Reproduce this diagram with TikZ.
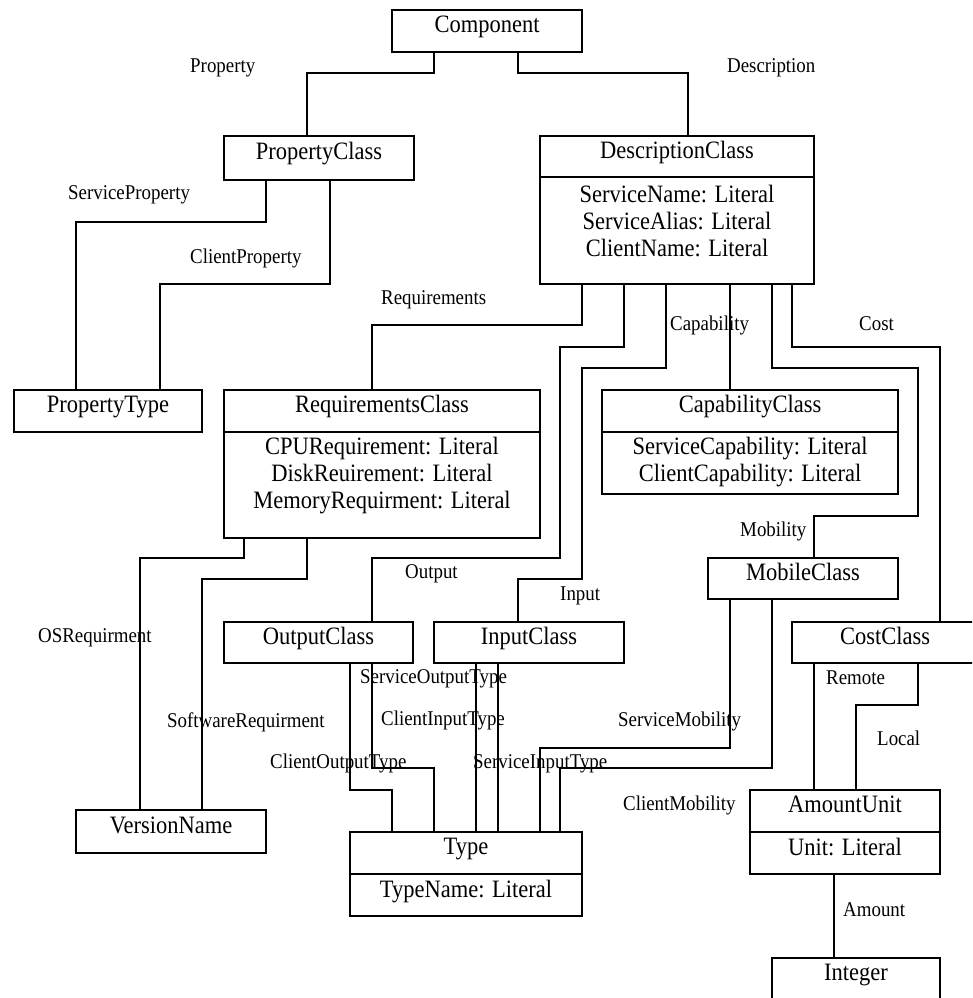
\documentclass[tikz,border=0pt]{standalone}
\usepackage{fontspec}
\setmainfont{Liberation Serif}[FakeStretch=0.9]
\newcommand\boxfont{\fontsize{25}{27}\selectfont}
\newcommand\lblfont{\fontsize{21}{23}\selectfont}

\begin{document}
\begin{tikzpicture}[x=1pt,y=-1pt,
  cls/.style={draw, line width=2.4pt, inner sep=0pt, font=\boxfont,
              text height=12pt, text depth=9pt},
  body/.style={draw, line width=2.4pt, inner sep=0pt},
  attr/.style={font=\boxfont, inner sep=0pt, anchor=base},
  rel/.style={line width=2.2pt},
  lbl/.style={font=\lblfont, inner sep=0pt, anchor=base west},
]
\useasboundingbox (0,0) rectangle (972,998);
\clip (0,0) rectangle (972,998);

% ---- classes ----
\node[cls, minimum width=190pt, minimum height=42pt] (comp)  at (487,31)    {Component};
\node[cls, minimum width=190pt, minimum height=44pt] (propc) at (319,158)   {PropertyClass};

\node[cls, minimum width=274pt, minimum height=41pt] (desch) at (677,156.5) {DescriptionClass};
\node[body, minimum width=274pt, minimum height=107pt] (descb) at (677,230.5) {};
\node[attr] (desca1) at (677,202) {ServiceName: Literal};
\node[attr] (desca2) at (677,229) {ServiceAlias: Literal};
\node[attr] (desca3) at (677,256) {ClientName: Literal};

\node[cls, minimum width=188pt, minimum height=42pt] (ptype) at (108,411)   {PropertyType};

\node[cls, minimum width=316pt, minimum height=42pt] (reqh)  at (382,411)   {RequirementsClass};
\node[body, minimum width=316pt, minimum height=106pt] (reqb) at (382,485) {};
\node[attr] (reqa1) at (382,454) {CPURequirement: Literal};
\node[attr] (reqa2) at (382,481) {DiskReuirement: Literal};
\node[attr] (reqa3) at (382,508) {MemoryRequirment: Literal};

\node[cls, minimum width=296pt, minimum height=42pt] (caph)  at (750,411)   {CapabilityClass};
\node[body, minimum width=296pt, minimum height=62pt] (capb) at (750,463) {};
\node[attr] (capa1) at (750,454) {ServiceCapability: Literal};
\node[attr] (capa2) at (750,481) {ClientCapability: Literal};

\node[cls, minimum width=190pt, minimum height=41pt] (mobc)  at (803,578.5) {MobileClass};
\node[cls, minimum width=189pt, minimum height=41pt] (outc)  at (318.5,642.5) {OutputClass};
\node[cls, minimum width=190pt, minimum height=41pt] (inc)   at (529,642.5) {InputClass};
\node[cls, minimum width=186pt, minimum height=41pt] (costc) at (885,642.5) {CostClass};
\node[cls, minimum width=190pt, minimum height=43pt] (vname) at (171,831.5) {VersionName};

\node[cls, minimum width=232pt, minimum height=42pt] (typeh) at (466,853)   {Type};
\node[body, minimum width=232pt, minimum height=42pt] (typeb) at (466,895) {};
\node[attr] (typea1) at (466,897) {TypeName: Literal};

\node[cls, minimum width=190pt, minimum height=42pt] (amth)  at (845,811)   {AmountUnit};
\node[body, minimum width=190pt, minimum height=42pt] (amtb) at (845,853) {};
\node[attr] (amta1) at (845,855) {Unit: Literal};

\node[cls, minimum width=168pt, minimum height=42pt] (intg)  at (856,979)   {Integer};

% ---- relations ----
\draw[rel] (comp.south -| 434,0) |- (307,73) -- (propc.north -| 307,0);
\draw[rel] (comp.south -| 518,0) |- (688,73) -- (desch.north -| 688,0);
\draw[rel] (propc.south -| 266,0) |- (76,222) -- (ptype.north -| 76,0);
\draw[rel] (propc.south -| 330,0) |- (160,284) -- (ptype.north -| 160,0);
\draw[rel] (descb.south -| 582,0) |- (372,325) -- (reqh.north -| 372,0);
\draw[rel] (descb.south -| 624,0) |- (560,347) |- (372,558) -- (outc.north -| 372,0);
\draw[rel] (descb.south -| 666,0) |- (582,368) |- (518,579) -- (inc.north -| 518,0);
\draw[rel] (descb.south -| 730,0) -- (caph.north -| 730,0);
\draw[rel] (descb.south -| 772,0) |- (918,368) |- (814,516) -- (mobc.north -| 814,0);
\draw[rel] (descb.south -| 792,0) |- (940,347) -- (costc.north -| 940,0);
\draw[rel] (reqb.south -| 244,0) |- (140,558) -- (vname.north -| 140,0);
\draw[rel] (reqb.south -| 307,0) |- (202,579) -- (vname.north -| 202,0);
\draw[rel] (outc.south -| 350,0) |- (392,790) -- (typeh.north -| 392,0);
\draw[rel] (outc.south -| 372,0) |- (434,768) -- (typeh.north -| 434,0);
\draw[rel] (inc.south -| 476,0) -- (typeh.north -| 476,0);
\draw[rel] (inc.south -| 498,0) -- (typeh.north -| 498,0);
\draw[rel] (mobc.south -| 730,0) |- (540,748) -- (typeh.north -| 540,0);
\draw[rel] (mobc.south -| 772,0) |- (560,768) -- (typeh.north -| 560,0);
\draw[rel] (costc.south -| 814,0) -- (amth.north -| 814,0);
\draw[rel] (costc.south -| 918,0) |- (856,705) -- (amth.north -| 856,0);
\draw[rel] (amtb.south -| 834,0) -- (intg.north -| 834,0);

% ---- role names ----
\node[lbl] (l-prop) at (190,72)  {Property};
\node[lbl] (l-desc) at (727,72)  {Description};
\node[lbl] (l-sprop) at (68,199) {ServiceProperty};
\node[lbl] (l-cprop) at (190,263) {ClientProperty};
\node[lbl] (l-req)  at (381,304) {Requirements};
\node[lbl] (l-cap)  at (670,330) {Capability};
\node[lbl] (l-cost) at (859,330) {Cost};
\node[lbl] (l-mob)  at (740,536) {Mobility};
\node[lbl] (l-out)  at (405,578) {Output};
\node[lbl] (l-in)   at (560,600) {Input};
\node[lbl] (l-os)   at (38,642)  {OSRequirment};
\node[lbl] (l-sw)   at (167,727) {SoftwareRequirment};
\node[lbl] (l-sot)  at (360,683) {ServiceOutputType};
\node[lbl] (l-cit)  at (381,725) {ClientInputType};
\node[lbl] (l-cot)  at (270,768) {ClientOutputType};
\node[lbl] (l-sit)  at (473,768) {ServiceInputType};
\node[lbl] (l-smob) at (618,726) {ServiceMobility};
\node[lbl] (l-cmob) at (623,810) {ClientMobility};
\node[lbl] (l-rem)  at (826,684) {Remote};
\node[lbl] (l-loc)  at (877,745) {Local};
\node[lbl] (l-amt)  at (843,916) {Amount};
\end{tikzpicture}
\end{document}
